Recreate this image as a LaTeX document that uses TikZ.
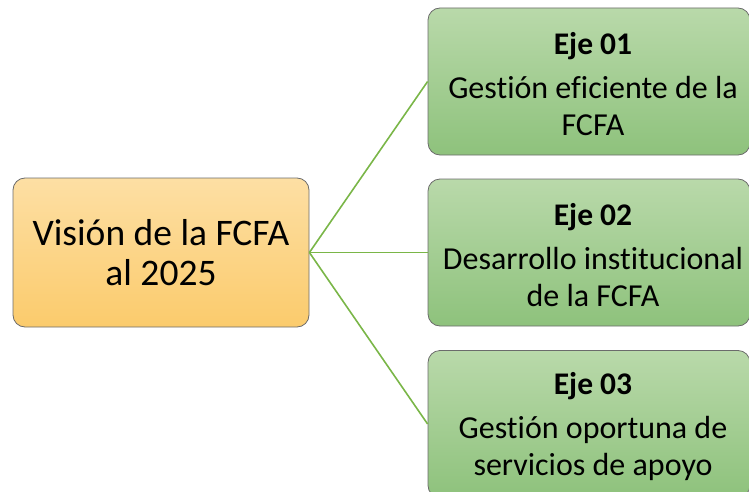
\documentclass[tikz,border=0pt]{standalone}
\usepackage{fontspec}
\setmainfont[Ligatures={NoCommon}]{Carlito}
\definecolor{orTop}{HTML}{FDDFA4}
\definecolor{orBot}{HTML}{FBCB6C}
\definecolor{grTop}{HTML}{B9D9AA}
\definecolor{grBot}{HTML}{8EC27C}
\definecolor{brd}{HTML}{6B6B6B}
\definecolor{lnk}{HTML}{7AB648}
\tikzset{
  mainbox/.style={draw=brd, line width=0.8pt, rounded corners=12pt, top color=orTop, bottom color=orBot,
    minimum width=296pt, minimum height=149pt, align=center, inner sep=0pt,
    font=\fontsize{37.5}{40}\selectfont},
  ejebox/.style={draw=brd, line width=0.8pt, rounded corners=12pt, top color=grTop, bottom color=grBot,
    minimum width=322pt, minimum height=147pt, align=center, inner sep=0pt,
    font=\fontsize{32}{37}\selectfont},
  ejetext/.style={align=center, inner sep=0pt, font=\fontsize{32}{37}\selectfont},
  link/.style={draw=lnk, line width=1.6pt},
}
\newcommand{\ejetitle}[1]{{\fontsize{31.5}{34}\selectfont\bfseries #1}\\[7pt]}
\begin{document}
\begin{tikzpicture}[x=1pt,y=-1pt]
\useasboundingbox (0,0) rectangle (749,492);
\clip (0,0) rectangle (749,492);
\node[mainbox] (v) at (161,252.5) {Visión de la FCFA\\al 2025};
\node[ejebox] (e1) at (589,81.5) {};
\node[ejebox] (e2) at (589,252.5) {};
\node[ejebox] (e3) at (589,424) {};
\node[ejetext] (t1) at ([xshift=4pt,yshift=-3pt]e1.center) {\ejetitle{Eje 01}Gestión eficiente de la\\FCFA};
\node[ejetext] (t2) at ([xshift=4pt,yshift=-3pt]e2.center) {\ejetitle{Eje 02}Desarrollo institucional\\de la FCFA};
\node[ejetext] (t3) at ([xshift=4pt,yshift=-3pt]e3.center) {\ejetitle{Eje 03}Gestión oportuna de\\servicios de apoyo};
\draw[link] (v.east) -- (e1.west);
\draw[link] (v.east) -- (e2.west);
\draw[link] (v.east) -- (e3.west);
\end{tikzpicture}
\end{document}
